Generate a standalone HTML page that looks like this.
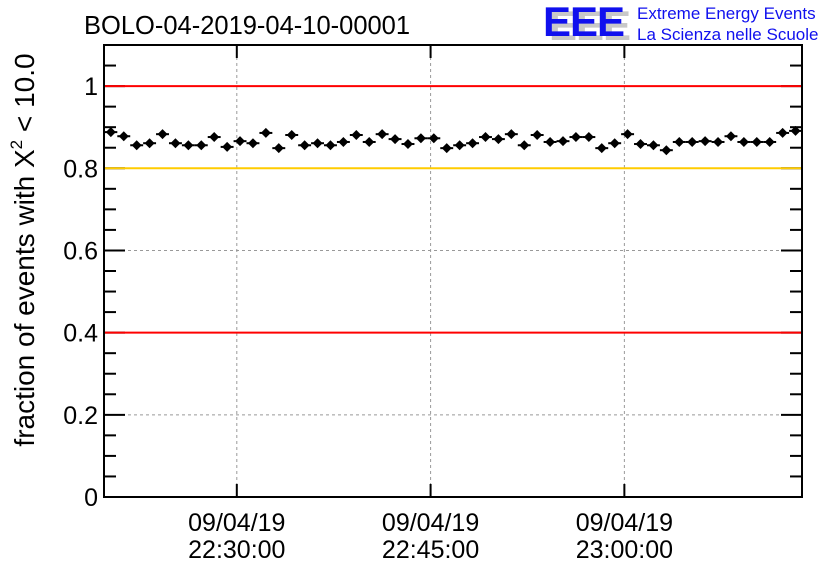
<!DOCTYPE html>
<html><head><meta charset="utf-8"><style>
body{margin:0;background:#fff;}
svg text{font-family:"Liberation Sans",Arial,sans-serif;}
</style></head><body>
<svg width="836" height="572" viewBox="0 0 836 572" xmlns="http://www.w3.org/2000/svg">
<rect width="836" height="572" fill="#fff"/>
<text x="84" y="34" font-size="25.5">BOLO-04-2019-04-10-00001</text>
<g>
<text x="549" y="40" font-size="42" font-weight="bold" fill="#c8c8c8" letter-spacing="-1">EEE</text>
<text x="543" y="36" font-size="42" font-weight="bold" fill="#1010ee" letter-spacing="-1">EEE</text>
<text x="637" y="19" font-size="17" fill="#1010ee">Extreme Energy Events</text>
<text x="637" y="40" font-size="17" fill="#1010ee">La Scienza nelle Scuole</text>
</g>
<text transform="translate(34,250) rotate(-90)" text-anchor="middle" font-size="28">fraction of events with X<tspan font-size="17" dy="-12">2</tspan><tspan dy="12"> &lt; 10.0</tspan></text>
<g id="grid"></g>
<g id="marks"></g>
<g id="axes"></g>
<g id="refs"></g>
</svg>
<script>
const values=[0.888,0.878,0.856,0.861,0.883,0.861,0.856,0.856,0.876,0.852,0.866,0.861,0.886,0.849,0.881,0.856,0.861,0.856,0.864,0.881,0.864,0.883,0.871,0.859,0.873,0.873,0.849,0.856,
0.861,0.876,0.871,0.883,0.856,0.881,0.864,0.866,0.876,0.876,0.849,0.861,0.883,0.859,0.856,0.844,0.864,0.864,0.866,0.864,0.878,0.864,0.864,0.864,0.886,0.891];
const startMinute=22*60+20.25;
const yTicks=[0,0.2,0.4,0.6,0.8,1];
const yTickLabels=["0","0.2","0.4","0.6","0.8","1"];
const xTicks=[22*60+30,22*60+45,23*60];
const xTickLabels=["22:30:00","22:45:00","23:00:00"];
const dateLabel="09/04/19";
const refLines=[{v:1,c:"#ff0000"},{v:0.8,c:"#ffcc00"},{v:0.4,c:"#ff0000"}];

const L=104,R=802,T=45,B=497;
const xMin=22*60+19.72,xMax=23*60+13.75,yMin=0,yMax=1.1;
const X=m=>L+(m-xMin)/(xMax-xMin)*(R-L);
const Y=v=>B-(v-yMin)/(yMax-yMin)*(B-T);
const NS="http://www.w3.org/2000/svg";
function mk(tag,attrs,parent){const e=document.createElementNS(NS,tag);for(const k in attrs)e.setAttribute(k,attrs[k]);parent.appendChild(e);return e;}
const grid=document.getElementById('grid'),marks=document.getElementById('marks'),axes=document.getElementById('axes'),refs=document.getElementById('refs');
yTicks.forEach(v=>{if(v>0&&v<1.1){const g=mk('line',{x1:L,x2:R,y1:Y(v),y2:Y(v),stroke:'#999','stroke-dasharray':'3,3','stroke-width':1},grid);}});
xTicks.forEach(m=>{const g=mk('line',{x1:X(m),x2:X(m),y1:T,y2:B,stroke:'#999','stroke-dasharray':'3,3','stroke-width':1},grid);});
values.forEach((v,i)=>{const m=startMinute+i;const cx=X(m),cy=Y(v);
const g=mk('g',{},marks);
mk('line',{x1:X(m-0.5),x2:X(m+0.5),y1:cy,y2:cy,stroke:'#000','stroke-width':2},g);
mk('line',{x1:cx,x2:cx,y1:Y(v+0.008),y2:Y(v-0.008),stroke:'#000','stroke-width':2},g);
mk('path',{d:`M${cx} ${cy-5}L${cx+5} ${cy}L${cx} ${cy+5}L${cx-5} ${cy}Z`,fill:'#000'},g);});
const fr=mk('rect',{x:L,y:T,width:R-L,height:B-T,fill:'none',stroke:'#000','stroke-width':2},axes);

for(let k=0;k<=22;k++){const v=k*0.05;const y=Y(v);const major=k%4===0;const len=major?21:12;
mk('line',{x1:L,x2:L+len,y1:y,y2:y,stroke:'#000','stroke-width':2},axes);
mk('line',{x1:R,x2:R-len,y1:y,y2:y,stroke:'#000','stroke-width':2},axes);}
yTicks.forEach((v,i)=>{const t=mk('text',{x:L-6,y:Y(v)+9,'text-anchor':'end','font-size':25},axes);t.textContent=yTickLabels[i];});
xTicks.forEach((m,i)=>{const x=X(m);
mk('line',{x1:x,x2:x,y1:B,y2:B-13,stroke:'#000','stroke-width':2},axes);
mk('line',{x1:x,x2:x,y1:T,y2:T+13,stroke:'#000','stroke-width':2},axes);
const t1=mk('text',{x:x,y:531,'text-anchor':'middle','font-size':25},axes);t1.textContent=dateLabel;
const t2=mk('text',{x:x,y:558,'text-anchor':'middle','font-size':25},axes);t2.textContent=xTickLabels[i];});
refLines.forEach(r=>{const l=mk('line',{x1:L+1,x2:R-1,y1:Y(r.v),y2:Y(r.v),stroke:r.c,'stroke-width':2},refs);});
</script>
</body></html>
